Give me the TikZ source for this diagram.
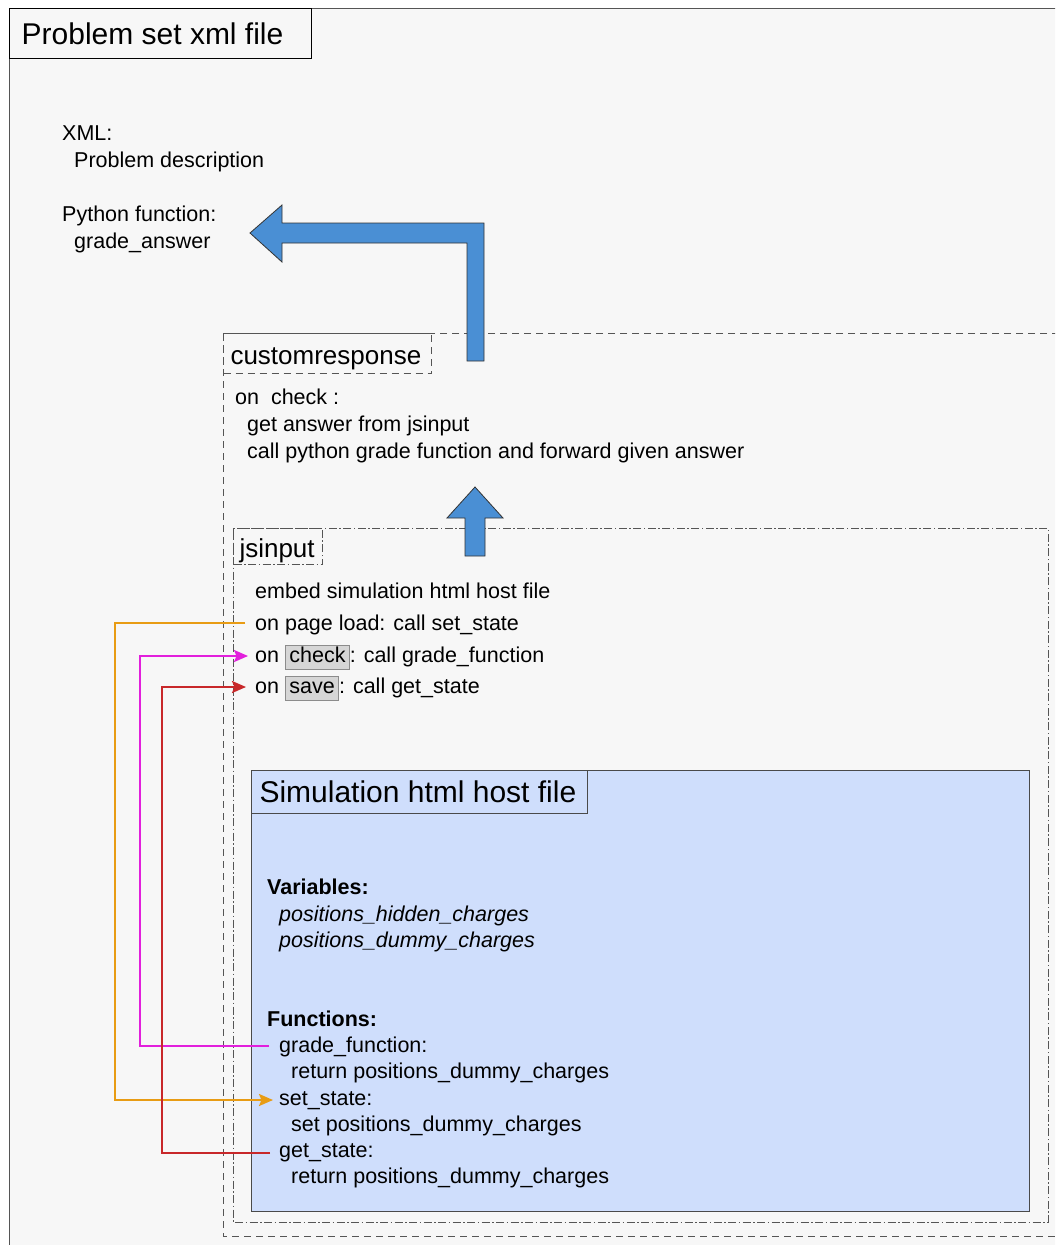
\documentclass[tikz,border=0pt]{standalone}
\usepackage{fontspec}
\setmainfont{Liberation Sans}
\usetikzlibrary{arrows.meta}

\definecolor{pagebg}{HTML}{F7F7F7}
\definecolor{simfill}{HTML}{CFDEFC}
\definecolor{simline}{HTML}{4A4A4A}
\definecolor{blockblue}{HTML}{4A8FD4}
\definecolor{wireorange}{HTML}{E89C14}
\definecolor{wiremagenta}{HTML}{E21FDC}
\definecolor{wirered}{HTML}{C8282A}
\definecolor{btnfill}{HTML}{D6D6D6}
\definecolor{btnline}{HTML}{8C8C8C}
\definecolor{frameline}{HTML}{555555}

% grey push button drawn inline with the text
\newcommand\uibutton[1]{{\setlength\fboxsep{1.5pt}\setlength\fboxrule{0.8pt}%
  \fcolorbox{btnline}{btnfill}{\kern2pt\vphantom{hg}#1\kern2pt}}}
% fixed-width, left-aligned caption line that never wraps
\newcommand\capline[2]{\makebox[#1][l]{#2}}

\tikzset{
  body/.style={anchor=west, inner sep=0pt, text height=15.5pt, text depth=0pt,
    font=\fontsize{21.5}{26}\selectfont},
  labelbox/.style={anchor=north west, inner ysep=0pt, text height=21pt, text depth=0pt,
    font=\fontsize{26}{31}\selectfont},
  crdash/.style={draw=frameline, line width=1pt, dash pattern=on 7pt off 5pt},
  jsdash/.style={draw=frameline, line width=1pt,
    dash pattern=on 8pt off 2.5pt on 1.5pt off 2.5pt},
  bigarrow/.style={fill=blockblue, draw=black!80, line width=0.8pt, line join=miter},
  wire/.style={line width=2.2pt, -{Stealth[length=14pt,width=12pt,inset=2.5pt]}}
}

\begin{document}
\begin{tikzpicture}[x=1pt,y=-1pt]
\useasboundingbox (0,0) rectangle (1055,1245);
\clip (0,0) rectangle (1055,1245);
\fill[white] (0,0) rectangle (1055,1245);

% outer problem-set frame
\draw[frameline, fill=pagebg, line width=1pt] (9,8) rectangle (1100,1300);
\node[anchor=north west, draw=black, line width=1.3pt, inner ysep=0pt,
  minimum height=50pt, inner xsep=12pt,
  font=\fontsize{30}{36}\selectfont] (probset) at (9,8) {\capline{278pt}{Problem set xml file}};

\node[body] (xml) at (62,133) {XML:};
\node[body] (probdesc) at (74,160) {Problem description};
\node[body] (pyfunc) at (62,214) {Python function:};
\node[body] (gradeans) at (74,241) {grade\_answer};

% customresponse container
\draw[crdash] (223,333) rectangle (1100,1236);
\node[labelbox, crdash, minimum height=40pt, inner xsep=7pt]
  (crlabel) at (223,333) {\capline{194pt}{customresponse}};
\node[body] (oncheck) at (235,397) {on\ \ check :};
\node[body] (getans) at (247,424) {get answer from jsinput};
\node[body] (callpy) at (247,451) {call python grade function and forward given answer};

% jsinput container
\draw[jsdash] (233,528) rectangle (1048,1222);
\node[labelbox, jsdash, minimum height=36pt, inner xsep=6pt]
  (jslabel) at (233,528) {\capline{77pt}{jsinput}};
\node[body] (embed) at (255,591) {embed simulation html host file};
\node[body] (pageload) at (255,623) {on page load: call set\_state};
\node[body] (checkline) at (255,655) {on \uibutton{check}: call grade\_function};
\node[body] (saveline) at (255,686) {on \uibutton{save}: call get\_state};

% simulation host file
\draw[simline, fill=simfill, line width=1pt] (251,770) rectangle (1029,1211);
\node[anchor=north west, draw=simline, fill=simfill, line width=1pt, inner ysep=0pt,
  minimum height=43pt, inner xsep=8pt,
  font=\fontsize{30}{36}\selectfont] (simtitle) at (251,770) {\capline{320pt}{Simulation html host file}};

\node[body, font=\fontsize{21.5}{26}\selectfont\bfseries] (vars) at (267,887) {Variables:};
\node[body, font=\fontsize{21.5}{26}\selectfont\itshape] (hidden) at (279,914) {positions\_hidden\_charges};
\node[body, font=\fontsize{21.5}{26}\selectfont\itshape] (dummy) at (279,940) {positions\_dummy\_charges};
\node[body, font=\fontsize{21.5}{26}\selectfont\bfseries] (funcs) at (267,1019) {Functions:};
\node[body] (gradefn) at (279,1045) {grade\_function:};
\node[body] (gradefnret) at (291,1071) {return positions\_dummy\_charges};
\node[body] (setstate) at (279,1098) {set\_state:};
\node[body] (setstatebody) at (291,1124) {set positions\_dummy\_charges};
\node[body] (getstate) at (279,1150) {get\_state:};
\node[body] (getstateret) at (291,1176) {return positions\_dummy\_charges};

% block arrows between the layers
\draw[bigarrow] (484,361) -- (484,223) -- (282,223) -- (282,205) -- (250,233)
  -- (282,262) -- (282,243) -- (467,243) -- (467,361) -- cycle;
\draw[bigarrow] (475,487) -- (503,518) -- (485,518) -- (485,556) -- (465,556)
  -- (465,518) -- (447,518) -- cycle;

% calls between jsinput and the simulation
\draw[wire, wireorange] ([xshift=-10pt]pageload.west) -- ++(-130,0)
  |- ([xshift=-6pt,yshift=-2pt]setstate.west);
\draw[wire, wiremagenta] ([xshift=-10pt,yshift=-1pt]gradefn.west) -- ++(-129,0)
  |- ([xshift=-7pt,yshift=-1pt]checkline.west);
\draw[wire, wirered] ([xshift=-9pt,yshift=-3pt]getstate.west) -- ++(-108,0)
  |- ([xshift=-9pt,yshift=-1pt]saveline.west);
\end{tikzpicture}
\end{document}
